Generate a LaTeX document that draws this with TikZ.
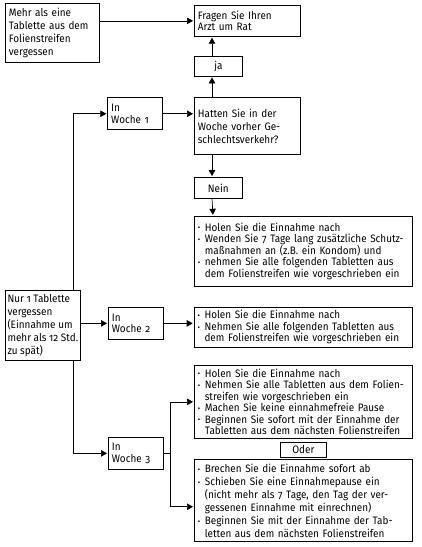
\documentclass[tikz,border=0pt]{standalone}
\usepackage{fontspec}
\setmainfont{Fira Sans}[Numbers=OldStyle, FakeStretch=0.92]
\usetikzlibrary{arrows.meta,positioning}

\newcommand{\bul}{\makebox[7pt][l]{\raisebox{0.4pt}{\fontsize{8}{8}\selectfont\textbullet}}}
\newcommand{\ind}{\hspace*{7pt}}

\tikzset{
  box/.style={draw, line width=0.7pt, inner xsep=3.5pt, inner ysep=2pt, align=left,
    font={\fontsize{10.8}{11.5}\selectfont\parindent=0pt}, anchor=north west},
  loose/.style={font={\fontsize{10.8}{13}\selectfont\parindent=0pt}},
  wide/.style={box, text width=211pt},
  small/.style={box, align=center, text width=41pt},
}

\begin{document}
\begin{tikzpicture}[shorten >=1pt, >={Triangle[length=6pt,width=6.5pt]}, line width=0.7pt]
  \useasboundingbox (0,0) rectangle (422pt,-547pt);

  \node[box, loose, text width=87pt, minimum height=59pt] (mehr) at (5pt,-3pt) {Mehr als eine\\Tablette aus dem\\Folienstreifen\\vergessen};
  \node[box, text width=99pt, minimum height=31pt] (fragen) at (194pt,-5pt) {Fragen Sie Ihren\\Arzt um Rat};
  \node[small, minimum height=20pt] (ja) [below=19pt of fragen.south west, anchor=north west] {ja};
  \node[box, loose, text width=99pt, minimum height=57pt] (hatten) [below=21pt of ja.south west, anchor=north west] {Hatten Sie in der\\Woche vorher Ge-\\schlechtsverkehr?};
  \node[small, minimum height=21pt] (nein) [below=22pt of hatten.south west, anchor=north west] {Nein};
  \node[wide, minimum height=70pt] (folgen1) [below=17pt of nein.south west, anchor=north west] {\bul Holen Sie die Einnahme nach\\\bul Wenden Sie 7 Tage lang zusätzliche Schutz-\\\ind maßnahmen an (z.B. ein Kondom) und\\\bul nehmen Sie alle folgenden Tabletten aus\\\ind dem Folienstreifen wie vorgeschrieben ein};
  \node[box, text width=48pt, minimum height=32pt] (woche1) [left=31pt of hatten.north west, anchor=north east] {In\\Woche 1};

  \node[box, loose, inner xsep=2pt, minimum width=75pt, minimum height=70pt] (nur) at (5pt,-290pt) {Nur 1 Tablette\\vergessen\\(Einnahme um\\mehr als 12 Std.\\zu spät)};
  \node[box, text width=48pt, minimum height=32pt] (woche2) at (108pt,-307pt) {In\\Woche 2};
  \node[wide, minimum height=40pt] (folgen2) [right=30pt of woche2.north east, anchor=north west] {\bul Holen Sie die Einnahme nach\\\bul Nehmen Sie alle folgenden Tabletten aus\\\ind dem Folienstreifen wie vorgeschrieben ein};

  \node[box, text width=48pt, minimum height=32pt] (woche3) at (108pt,-437pt) {In\\Woche 3};
  \node[wide, minimum height=73pt] (folgen3a) at (194pt,-365pt) {\bul Holen Sie die Einnahme nach\\\bul Nehmen Sie alle Tabletten aus dem Folien-\\\ind streifen wie vorgeschrieben ein\\\bul Machen Sie keine einnahmefreie Pause\\\bul Beginnen Sie sofort mit der Einnahme der\\\ind Tabletten aus dem nächsten Folienstreifen};
  \node[box, align=center, inner ysep=0pt, minimum width=46pt, minimum height=15pt] (oder) [below=3pt of folgen3a.south, anchor=north] {Oder};
  \node[wide, loose, minimum height=82pt] (folgen3b) [below=2pt of oder.south, anchor=north] {\bul Brechen Sie die Einnahme sofort ab\\\bul Schieben Sie eine Einnahmepause ein\\\ind (nicht mehr als 7 Tage, den Tag der ver-\\\ind gessenen Einnahme mit einrechnen)\\\bul Beginnen Sie mit der Einnahme der Tab-\\\ind letten aus dem nächsten Folienstreifen};

  \coordinate (gabel) at ([xshift=7pt]woche3.east);

  % Pfeile
  \draw[->] (mehr.east |- fragen.west) -- (fragen.west);
  \draw[->] ([xshift=18pt]ja.north west) -- ([xshift=18pt]fragen.south west);
  \draw[->] ([xshift=18pt]hatten.north west) -- ([xshift=18pt]ja.south west);
  \draw[->] ([xshift=18pt]hatten.south west) -- ([xshift=18pt]nein.north west);
  \draw[->] ([xshift=18pt]nein.south west) -- ([xshift=19pt]folgen1.north west);
  \draw[->] (woche1.east) -- (woche1.east -| hatten.west);
  \draw[->] ([xshift=-7pt]nur.north east) |- (woche1.west);
  \draw[->] (nur.east |- woche2.west) -- (woche2.west);
  \draw[->] (woche2.east) -- (woche2.east -| folgen2.west);
  \draw[->] ([xshift=-7pt]nur.south east) |- (woche3.west);
  \draw[->] (woche3.east) -- (gabel) |- (folgen3a.west);
  \draw[->] (gabel) |- ([yshift=-6pt]folgen3b.west);
\end{tikzpicture}
\end{document}
